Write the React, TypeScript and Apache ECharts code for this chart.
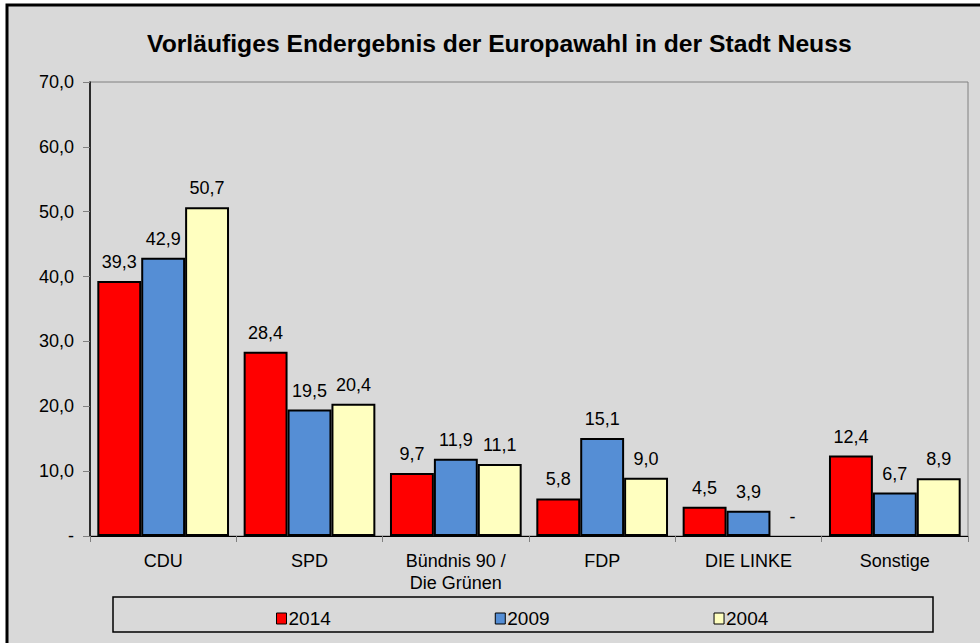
import React, { useEffect, useRef } from "react";
import * as echarts from "echarts";

const categories = ["CDU", "SPD", "Bündnis 90 /\nDie Grünen", "FDP", "DIE LINKE", "Sonstige"];
const seriesNames = ["2014", "2009", "2004"];
const values2014 = [39.3, 28.4, 9.7, 5.8, 4.5, 12.4];
const values2009 = [42.9, 19.5, 11.9, 15.1, 3.9, 6.7];
const values2004 = [50.7, 20.4, 11.1, 9.0, 0, 8.9];
const colors = ["#FF0000", "#558ED5", "#FFFFC0"];
const titleText = "Vorläufiges Endergebnis der Europawahl in der Stadt Neuss";

const fmt = (v: number) => (v === 0 ? "-" : v.toFixed(1).replace(".", ","));
const FONT = "'Liberation Sans', Arial, sans-serif";

export default function App() {
  const ref = useRef<HTMLDivElement>(null);
  useEffect(() => {
    if (!ref.current) return;
    const chart = echarts.init(ref.current, undefined, { renderer: "svg" });
    const data = [values2014, values2009, values2004];
    chart.setOption({
      animation: false,
      backgroundColor: "#FFFFFF",
      textStyle: { fontFamily: FONT },
      graphic: [
        {
          type: "rect",
          shape: { x: 7, y: 5, width: 990, height: 660 },
          style: { fill: "#D9D9D9", stroke: "#000", lineWidth: 3 },
          z: -10,
          silent: true,
        },
        {
          type: "rect",
          shape: { x: 113, y: 597, width: 820, height: 35 },
          style: { fill: "transparent", stroke: "#000", lineWidth: 1.5 },
          z: 1,
          silent: true,
        },
      ],
      title: {
        text: titleText,
        left: 142,
        top: 26,
        textStyle: { fontFamily: FONT, fontSize: 24.7, fontWeight: "bold", color: "#000" },
      },
      legend: {
        data: seriesNames,
        left: 271,
        top: 604,
        itemWidth: 10,
        itemHeight: 11,
        itemGap: 164,
        icon: "rect",
        itemStyle: { borderColor: "#000", borderWidth: 1 },
        textStyle: { fontFamily: FONT, fontSize: 19, color: "#000", padding: [0, 0, 0, -3] },
      },
      grid: {
        left: 90,
        right: 12,
        top: 82,
        bottom: 107,
        show: true,
        borderColor: "#808080",
        borderWidth: 1,
        backgroundColor: "transparent",
      },
      xAxis: {
        type: "category",
        data: categories,
        axisLine: { lineStyle: { color: "#000", width: 1 } },
        axisTick: { show: true, length: 6, lineStyle: { color: "#808080" } },
        axisLabel: { fontFamily: FONT, fontSize: 18, color: "#000", margin: 14, lineHeight: 22 },
      },
      yAxis: {
        type: "value",
        min: 0,
        max: 70,
        interval: 10,
        axisLine: { show: true, lineStyle: { color: "#000", width: 1.5 } },
        axisTick: { show: true, length: 7, lineStyle: { color: "#808080" } },
        splitLine: { show: false },
        axisLabel: { fontFamily: FONT, fontSize: 18, color: "#000", margin: 16, formatter: (v: number) => fmt(v) },
      },
      series: seriesNames.map((name, i) => ({
        name,
        type: "bar",
        data: data[i].map((v) => (v === 0 ? { value: v, itemStyle: { borderWidth: 0 } } : v)),
        barGap: "0%",
        barCategoryGap: "10%",
        itemStyle: { color: colors[i], borderColor: "#000", borderWidth: 2 },
        label: {
          show: true,
          position: "top",
          distance: 10,
          fontFamily: FONT,
          fontSize: 18,
          color: "#000",
          formatter: (p: any) => fmt(p.value),
        },
      })),
    });
    return () => chart.dispose();
  }, []);
  return (
    <div
      ref={ref}
      style={{ position: "fixed", left: 0, top: 0, width: 980, height: 643 }}
    />
  );
}
